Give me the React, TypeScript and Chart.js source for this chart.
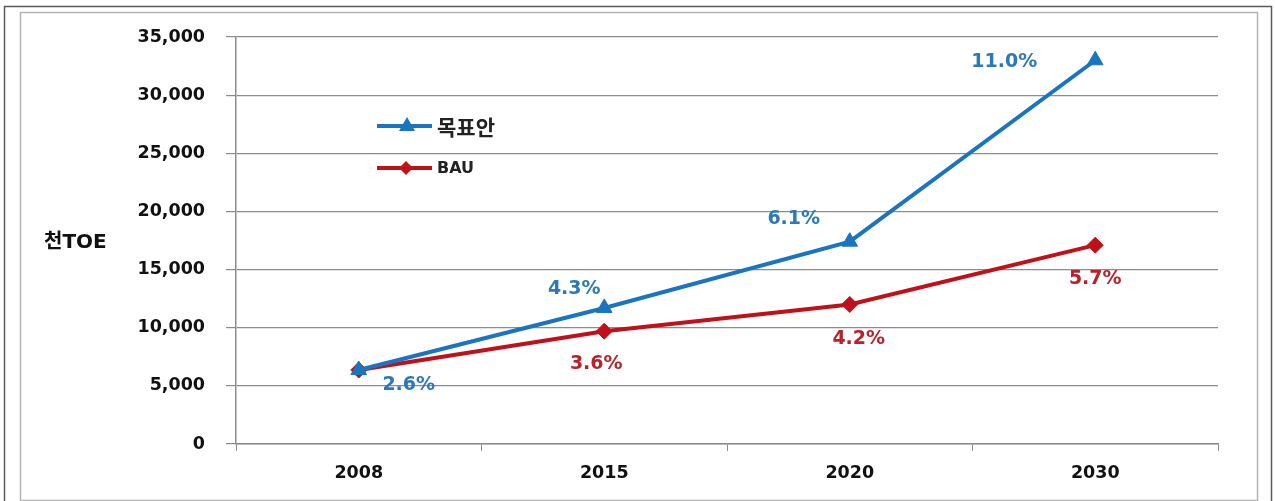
import React, { useEffect, useRef } from "react";
import { Chart, registerables } from "chart.js";

Chart.register(...registerables);

const years = ["2008", "2015", "2020", "2030"];
const targetValues = [6360, 11700, 17400, 33000];
const bauValues = [6360, 9700, 12000, 17100];
const targetRates = ["2.6%", "4.3%", "6.1%", "11.0%"];
const bauRates = ["", "3.6%", "4.2%", "5.7%"];
const targetName = "목표안";
const bauName = "BAU";
const yUnit = "천TOE";

const BLUE = "#1b74bf";
const BLUE_TEXT = "#2b79b9";
const RED = "#c0111b";
const RED_TEXT = "#b9222b";
const FONT = "'DejaVu Sans', 'Noto Sans CJK KR', sans-serif";

// label offsets from their point (style only)
const targetOffsets = [[50, 15], [-30, -19], [-56, -23], [-91, 2]];
const bauOffsets = [[0, 0], [-8, 33], [9, 35], [0, 34]];

export default function App() {
  const ref = useRef<HTMLCanvasElement | null>(null);

  useEffect(() => {
    const canvas = ref.current;
    if (!canvas) return;

    const framePlugin = {
      id: "frame",
      beforeDraw(chart: any) {
        const ctx = chart.ctx;
        ctx.save();
        ctx.fillStyle = "#ffffff";
        ctx.fillRect(0, 0, chart.width, chart.height);
        ctx.strokeStyle = "#5a5a5a";
        ctx.lineWidth = 1.5;
        ctx.strokeRect(4.5, 6.5, 1267, 520);
        ctx.strokeStyle = "#b4b4b4";
        ctx.lineWidth = 1.5;
        ctx.strokeRect(20.5, 12.5, 1237, 488);
        ctx.restore();
      },
    };

    const labelPlugin = {
      id: "labels",
      afterDatasetsDraw(chart: any) {
        const ctx = chart.ctx;
        ctx.save();
        ctx.font = `bold 19px ${FONT}`;
        ctx.textAlign = "center";
        ctx.textBaseline = "middle";
        const m0 = chart.getDatasetMeta(0);
        ctx.fillStyle = BLUE_TEXT;
        targetRates.forEach((t, i) => {
          if (!t) return;
          const p = m0.data[i];
          ctx.fillText(t, p.x + targetOffsets[i][0], p.y + targetOffsets[i][1]);
        });
        const m1 = chart.getDatasetMeta(1);
        ctx.fillStyle = RED_TEXT;
        bauRates.forEach((t, i) => {
          if (!t) return;
          const p = m1.data[i];
          ctx.fillText(t, p.x + bauOffsets[i][0], p.y + bauOffsets[i][1]);
        });

        // y unit
        ctx.fillStyle = "#111111";
        ctx.font = `bold 20px ${FONT}`;
        ctx.textAlign = "left";
        ctx.fillText(yUnit, 44, 243);

        // legend
        const items = [
          { name: targetName, color: BLUE, y: 126, style: "tri", font: `bold 21px 'Noto Sans CJK KR', sans-serif` },
          { name: bauName, color: RED, y: 168, style: "dia", font: `bold 16px ${FONT}` },
        ];
        items.forEach((it) => {
          ctx.strokeStyle = it.color;
          ctx.fillStyle = it.color;
          ctx.lineWidth = 4;
          ctx.beginPath();
          ctx.moveTo(377, it.y);
          ctx.lineTo(432, it.y);
          ctx.stroke();
          ctx.beginPath();
          if (it.style === "tri") {
            ctx.moveTo(407, it.y - 9);
            ctx.lineTo(415, it.y + 5);
            ctx.lineTo(399, it.y + 5);
          } else {
            ctx.moveTo(406, it.y - 7);
            ctx.lineTo(413, it.y);
            ctx.lineTo(406, it.y + 7);
            ctx.lineTo(399, it.y);
          }
          ctx.closePath();
          ctx.fill();
          ctx.fillStyle = "#222222";
          ctx.font = it.font;
          ctx.textAlign = "left";
          ctx.textBaseline = "middle";
          ctx.fillText(it.name, 437, it.y + 1);
        });
        ctx.restore();
      },
    };

    const chart = new Chart(canvas, {
      type: "line",
      data: {
        labels: years,
        datasets: [
          {
            label: targetName,
            data: targetValues,
            borderColor: BLUE,
            backgroundColor: BLUE,
            borderWidth: 4,
            pointStyle: "triangle",
            pointRadius: 9,
            pointBackgroundColor: BLUE,
            pointBorderColor: BLUE,
            pointBorderWidth: 1,
            tension: 0,
          },
          {
            label: bauName,
            data: bauValues,
            borderColor: RED,
            backgroundColor: RED,
            borderWidth: 4,
            pointStyle: "rectRot",
            pointRadius: 8,
            pointBackgroundColor: RED,
            pointBorderColor: RED,
            pointBorderWidth: 1,
            tension: 0,
          },
        ],
      },
      options: {
        responsive: false,
        animation: false,
        devicePixelRatio: 1,
        layout: { padding: { top: 37, right: 57, left: 0, bottom: 0 } },
        plugins: {
          legend: { display: false },
          tooltip: { enabled: false },
        },
        scales: {
          x: {
            offset: true,
            grid: {
              offset: true,
              drawOnChartArea: false,
              drawTicks: true,
              tickLength: 7,
              color: "#8c8c8c",
            },
            border: { color: "#8c8c8c", width: 1.5 },
            ticks: {
              font: { family: FONT, size: 17.5, weight: "bold" },
              color: "#111111",
              padding: 12,
            },
            afterFit(scale: any) {
              scale.height = 57;
            },
          },
          y: {
            min: 0,
            max: 35000,
            grid: { color: "#8c8c8c", tickLength: 10, lineWidth: 1.2 },
            border: { color: "#8c8c8c", width: 1.5 },
            ticks: {
              stepSize: 5000,
              font: { family: FONT, size: 17.5, weight: "bold" },
              color: "#111111",
              padding: 21,
              callback: (v: any) => Number(v).toLocaleString("en-US"),
            },
            afterFit(scale: any) {
              scale.width = 236;
            },
          },
        },
      },
      plugins: [framePlugin, labelPlugin],
    });

    return () => chart.destroy();
  }, []);

  return (
    <div style={{ position: "absolute", left: 0, top: 0, width: 1275, height: 501, background: "#fff" }}>
      <canvas ref={ref} width={1275} height={501} style={{ display: "block" }} />
    </div>
  );
}
